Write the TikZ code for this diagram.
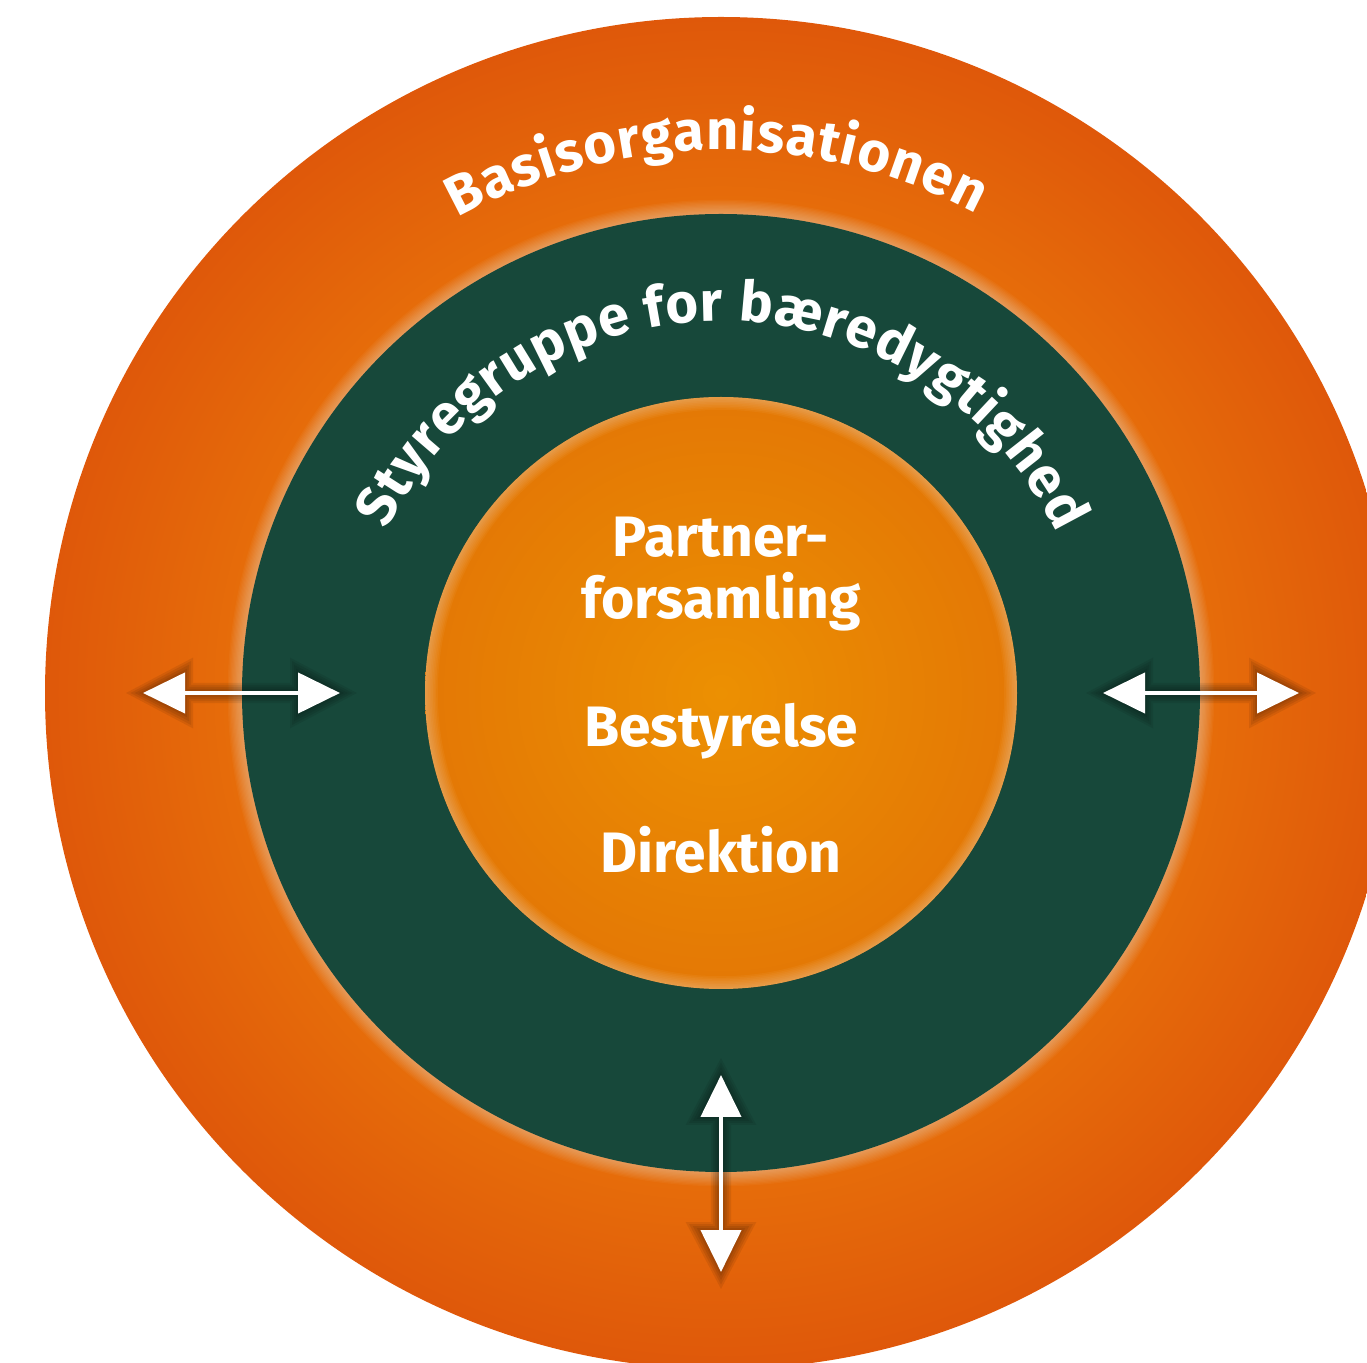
\documentclass[tikz,border=0pt]{standalone}
\usepackage{fontspec}
\setmainfont{Fira Sans}
\usetikzlibrary{arrows.meta,decorations.text,shadings}
\definecolor{orA}{HTML}{DF580A}
\definecolor{orB}{HTML}{F9A20A}
\definecolor{grn}{HTML}{17483A}
\definecolor{inA}{HTML}{E47805}
\definecolor{inB}{HTML}{EC9002}
\begin{document}
\begin{tikzpicture}[x=0.5pt,y=0.5pt,
  lbl/.style={text=white, font=\fontsize{28.5pt}{30pt}\selectfont\bfseries, anchor=base, inner sep=0},
  dbl/.style={white, line width=2.2pt, {Triangle[width=20pt,length=21pt]}-{Triangle[width=20pt,length=21pt]}},
  arctext/.style={decorate, decoration={text along path, text align=fit to path, text color=white}}
]
\useasboundingbox (0,0) rectangle (1367,1362);
\clip (0,0) rectangle (1367,1362);
\coordinate (C) at (721,669);
% outer ring
\node[circle, minimum size=676pt, inner sep=0, inner color=orB, outer color=orA] (basis) at (C) {};
% halo round the green circle
\foreach \k in {0,...,11} \fill[white, opacity=0.035] (C) circle ({479+\k*1.3});
\node[circle, minimum size=479pt, inner sep=0, fill=grn] (styre) at (C) {};
% inner circle
\node[circle, minimum size=296pt, inner sep=0, inner color=inB, outer color=inA] (kerne) at (C) {};
\foreach \k in {1,...,8} \draw[white, opacity=0.04, line width=\k*0.8pt] (C) circle ({296-\k*0.8});
% curved titles
\path[arctext, decoration={text={|\fontsize{28pt}{30pt}\selectfont\bfseries|Basisorganisationen}}]
  (C) ++(119:543) arc[start angle=119, end angle=62, radius=543];
\path[arctext, decoration={text={|\fontsize{28pt}{30pt}\selectfont\bfseries|Styregruppe for bæredygtighed}}]
  (C) ++(154:372) arc[start angle=154, end angle=25.5, radius=372];
% centre labels
\node[lbl] (partner) at (721,805) {Partner-};
\node[lbl] (forsam) at (721,743) {forsamling};
\node[lbl] (bestyr) at (721,615) {Bestyrelse};
\node[lbl] (direk) at (721,489) {Direktion};
% arrows
\coordinate (l1) at (143,669); \coordinate (l2) at (340,669);
\coordinate (r1) at (1103,669); \coordinate (r2) at (1299,669);
\coordinate (b1) at (721,287); \coordinate (b2) at (721,90);
\foreach \d in {2,4,6,8}{
  \pgfmathsetmacro{\sh}{-1.16*\d}
  \pgfmathsetmacro{\lw}{2.2+\d}
  \pgfmathsetmacro{\tl}{21+1.66*\d}
  \pgfmathsetmacro{\tw}{20+1.58*\d}
  \begin{scope}[transparency group, opacity=0.08, shift={(1,-2)}]
    \foreach \a/\b in {l1/l2, r1/r2, b1/b2}
      \draw[black, line width=\lw pt, shorten <=\sh pt, shorten >=\sh pt,
            {Triangle[width=\tw pt,length=\tl pt]}-{Triangle[width=\tw pt,length=\tl pt]}] (\a) -- (\b);
  \end{scope}
}
\draw[dbl] (l1) -- (l2);
\draw[dbl] (r1) -- (r2);
\draw[dbl] (b1) -- (b2);
\end{tikzpicture}
\end{document}
